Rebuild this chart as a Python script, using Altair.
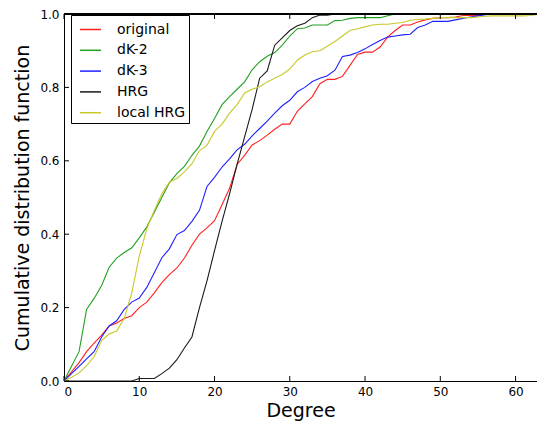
import altair as alt
import pandas as pd

degrees = list(range(0, 65))

series_names = ["original", "dK-2", "dK-3", "HRG", "local HRG"]
series_colors = ["#ff2020", "#22a022", "#2020ff", "#1a1a1a", "#c8c828"]

original = [
    0, .025, .05, .08, .103, .125, .15, .158, .17, .178,
    .20, .215, .24, .268, .29, .308, .335, .37, .40, .417,
    .437, .48, .525, .59, .615, .643, .655, .67, .686, .70,
    .70, .735, .755, .775, .81, .822, .822, .83, .86, .89,
    .896, .896, .91, .937, .955, .97, .97, .978, .984, .988,
    .99, .99, .992, .996, .996, .996, 1, 1, 1, 1,
    1, 1, 1, 1, 1,
]
dk2 = [
    0, .04, .08, .195, .225, .26, .31, .335, .35, .363,
    .39, .42, .46, .50, .54, .565, .585, .615, .64, .68,
    .715, .753, .775, .795, .815, .848, .87, .885, .895, .915,
    .94, .96, .962, .97, .97, .97, .982, .983, .988, .99,
    .99, .99, .99, .995, 1, 1, 1, 1, 1, 1,
    1, 1, 1, 1, 1, 1, 1, 1, 1, 1,
    1, 1, 1, 1, 1,
]
dk3 = [
    0, .02, .04, .06, .08, .12, .15, .164, .195, .215,
    .226, .255, .295, .336, .36, .399, .41, .435, .465, .53,
    .555, .583, .605, .63, .645, .668, .688, .708, .73, .75,
    .765, .788, .80, .816, .825, .832, .847, .884, .888, .895,
    .905, .917, .928, .937, .94, .943, .945, .963, .97, .98,
    .98, .98, .984, .988, .992, .995, .998, 1, 1, 1,
    1, 1, 1, 1, 1,
]
hrg = [
    0, 0, 0, 0, 0, 0, 0, 0, 0, 0,
    .007, .007, .007, .02, .035, .058, .09, .12, .20, .273,
    .355, .435, .51, .59, .665, .74, .825, .845, .915, .935,
    .955, .968, .975, .99, .997, .997, 1, 1, 1, 1,
    1, 1, 1, 1, 1, 1, 1, 1, 1, 1,
    1, 1, 1, 1, 1, 1, 1, 1, 1, 1,
    1, 1, 1, 1, 1,
]
local_hrg = [
    0, .01, .022, .042, .066, .11, .128, .136, .17, .24,
    .34, .415, .465, .51, .542, .552, .57, .592, .628, .642,
    .68, .70, .73, .753, .785, .795, .802, .815, .825, .835,
    .85, .874, .888, .897, .90, .912, .925, .94, .955, .96,
    .965, .97, .972, .972, .975, .977, .983, .985, .986, .988,
    .99, .99, .99, .99, .99, .992, .994, .995, .995, .995,
    .995, .995, .996, .999, 1.0,
]

x_ticks = [0, 10, 20, 30, 40, 50, 60]
y_ticks = [0.0, 0.2, 0.4, 0.6, 0.8, 1.0]

all_series = [original, dk2, dk3, hrg, local_hrg]
rows = []
for name, vals in zip(series_names, all_series):
    assert len(vals) == len(degrees), name
    for d, v in zip(degrees, vals):
        rows.append({"degree": d, "cdf": v, "series": name})
df = pd.DataFrame(rows)

W, H = 473, 367
FONT = "DejaVu Sans"

x_scale = alt.Scale(domain=[0, 62.85], nice=False, zero=False)
y_scale = alt.Scale(domain=[0, 1], nice=False)

x_axis = alt.Axis(title="Degree", values=x_ticks, ticks=False, grid=False,
                  labelFontSize=12, labelPadding=5, titleFontSize=19,
                  titlePadding=4, titleFontWeight="normal",
                  labelColor="black", titleColor="black",
                  domainColor="black", labelFont=FONT, titleFont=FONT)
y_axis = alt.Axis(title="Cumulative distribution function", values=y_ticks,
                  format=".1f", ticks=False, grid=False,
                  labelFontSize=12, labelPadding=5, titleFontSize=19,
                  titleX=-32, titleFontWeight="normal",
                  labelColor="black", titleColor="black",
                  domainColor="black", labelFont=FONT, titleFont=FONT)

lines = alt.Chart(df).mark_line(strokeWidth=1.1, clip=True).encode(
    x=alt.X("degree:Q", scale=x_scale, axis=x_axis),
    y=alt.Y("cdf:Q", scale=y_scale, axis=y_axis),
    color=alt.Color("series:N",
                    scale=alt.Scale(domain=series_names, range=series_colors),
                    legend=alt.Legend(title=None, orient="none", legendX=7, legendY=1,
                                      strokeColor="black", fillColor="white",
                                      padding=3, rowPadding=1.8,
                                      symbolType="stroke", symbolSize=441,
                                      symbolOffset=5,
                                      symbolStrokeWidth=1.5, labelOffset=15,
                                      labelFontSize=14, labelFont=FONT,
                                      labelColor="black", cornerRadius=0)),
)

xt_df = pd.DataFrame({"degree": x_ticks})
yt_df = pd.DataFrame({"cdf": y_ticks})

x_ticks_bottom = alt.Chart(xt_df).mark_rule(color="black", strokeWidth=1).encode(
    x=alt.X("degree:Q", scale=x_scale, axis=x_axis),
    y=alt.value(H), y2=alt.value(H - 5),
)
x_ticks_top = alt.Chart(xt_df).mark_rule(color="black", strokeWidth=1).encode(
    x=alt.X("degree:Q", scale=x_scale, axis=x_axis),
    y=alt.value(0), y2=alt.value(5),
)
y_ticks_left = alt.Chart(yt_df).mark_rule(color="black", strokeWidth=1).encode(
    y=alt.Y("cdf:Q", scale=y_scale, axis=y_axis),
    x=alt.value(0), x2=alt.value(5),
)
top_border = alt.Chart(yt_df).mark_rule(color="black", strokeWidth=1.2).encode(
    x=alt.value(0), x2=alt.value(W), y=alt.value(0),
)

chart = alt.layer(lines, x_ticks_bottom, x_ticks_top, y_ticks_left, top_border).properties(
    width=W, height=H,
    autosize=alt.AutoSizeParams(type="none"),
    padding={"left": 56, "top": 6, "right": 0, "bottom": 41},
    background="white",
).configure_view(stroke=None)

chart.save("out.html", embed_options={"renderer": "svg", "actions": False})
